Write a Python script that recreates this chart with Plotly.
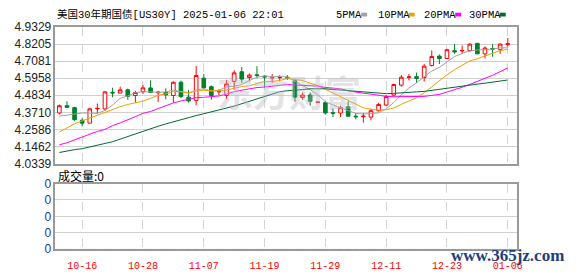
import plotly.graph_objects as go

dates = ["10-11", "10-14", "10-15", "10-16", "10-17", "10-18", "10-21", "10-22", "10-23", "10-24",
         "10-25", "10-28", "10-29", "10-30", "10-31", "11-01", "11-04", "11-05", "11-06", "11-07",
         "11-08", "11-11", "11-12", "11-13", "11-14", "11-15", "11-18", "11-19", "11-20", "11-21",
         "11-22", "11-25", "11-26", "11-27", "11-28", "11-29", "12-02", "12-03", "12-04", "12-05",
         "12-06", "12-09", "12-10", "12-11", "12-12", "12-13", "12-16", "12-17", "12-18", "12-19",
         "12-20", "12-23", "12-24", "12-26", "12-27", "12-30", "12-31", "01-02", "01-03", "01-06"]

opens = [4.367, 4.415, 4.402, 4.319, 4.300, 4.394, 4.394, 4.503, 4.498, 4.519,
         4.482, 4.507, 4.532, 4.500, 4.502, 4.482, 4.569, 4.471, 4.450, 4.596,
         4.540, 4.506, 4.482, 4.575, 4.638, 4.600, 4.618, 4.608, 4.598, 4.599,
         4.602, 4.579, 4.469, 4.485, 4.437, 4.435, 4.369, 4.367, 4.408, 4.346,
         4.342, 4.340, 4.382, 4.419, 4.485, 4.550, 4.600, 4.606, 4.600, 4.679,
         4.741, 4.725, 4.777, 4.775, 4.777, 4.825, 4.756, 4.791, 4.783, 4.817]
highs = [4.423, 4.444, 4.408, 4.332, 4.402, 4.429, 4.508, 4.533, 4.540, 4.527,
         4.513, 4.552, 4.582, 4.513, 4.529, 4.575, 4.579, 4.519, 4.675, 4.623,
         4.548, 4.523, 4.585, 4.648, 4.669, 4.627, 4.675, 4.616, 4.623, 4.616,
         4.616, 4.590, 4.502, 4.502, 4.440, 4.444, 4.398, 4.415, 4.444, 4.367,
         4.367, 4.394, 4.434, 4.485, 4.560, 4.616, 4.623, 4.633, 4.689, 4.779,
         4.752, 4.789, 4.820, 4.810, 4.825, 4.826, 4.804, 4.820, 4.825, 4.860]
lows = [4.357, 4.403, 4.315, 4.279, 4.300, 4.367, 4.382, 4.471, 4.497, 4.454,
        4.435, 4.492, 4.498, 4.440, 4.457, 4.434, 4.466, 4.435, 4.419, 4.523,
        4.454, 4.485, 4.460, 4.519, 4.565, 4.575, 4.596, 4.533, 4.565, 4.575,
        4.585, 4.440, 4.454, 4.415, 4.436, 4.357, 4.340, 4.340, 4.342, 4.325,
        4.304, 4.319, 4.377, 4.415, 4.477, 4.540, 4.581, 4.565, 4.573, 4.673,
        4.689, 4.721, 4.756, 4.756, 4.773, 4.755, 4.725, 4.737, 4.756, 4.804]
closes = [4.415, 4.404, 4.323, 4.300, 4.394, 4.397, 4.506, 4.499, 4.519, 4.477,
          4.502, 4.532, 4.502, 4.503, 4.486, 4.569, 4.475, 4.446, 4.613, 4.533,
          4.482, 4.509, 4.558, 4.631, 4.590, 4.616, 4.614, 4.604, 4.601, 4.601,
          4.598, 4.471, 4.485, 4.444, 4.439, 4.367, 4.365, 4.402, 4.346, 4.342,
          4.346, 4.382, 4.423, 4.475, 4.554, 4.602, 4.604, 4.594, 4.675, 4.738,
          4.725, 4.783, 4.769, 4.778, 4.820, 4.756, 4.794, 4.787, 4.820, 4.822]

ma5 = [4.346, 4.352, 4.362, 4.367, 4.367, 4.364, 4.384, 4.419, 4.463, 4.479,
       4.501, 4.506, 4.506, 4.503, 4.505, 4.518, 4.507, 4.496, 4.518, 4.527,
       4.510, 4.517, 4.539, 4.543, 4.554, 4.581, 4.602, 4.611, 4.605, 4.607,
       4.604, 4.575, 4.551, 4.520, 4.487, 4.441, 4.420, 4.403, 4.384, 4.364,
       4.360, 4.364, 4.368, 4.394, 4.436, 4.487, 4.532, 4.566, 4.606, 4.643,
       4.667, 4.703, 4.738, 4.759, 4.775, 4.781, 4.783, 4.787, 4.795, 4.796]
ma10 = [4.242, 4.268, 4.296, 4.315, 4.334, 4.352, 4.371, 4.393, 4.408, 4.423,
        4.432, 4.445, 4.463, 4.483, 4.492, 4.509, 4.507, 4.501, 4.511, 4.516,
        4.514, 4.512, 4.518, 4.531, 4.541, 4.546, 4.560, 4.575, 4.574, 4.581,
        4.593, 4.589, 4.581, 4.563, 4.547, 4.523, 4.498, 4.477, 4.452, 4.426,
        4.401, 4.392, 4.386, 4.389, 4.400, 4.424, 4.448, 4.467, 4.500, 4.540,
        4.577, 4.618, 4.652, 4.683, 4.709, 4.724, 4.743, 4.763, 4.777, 4.786]
ma20 = [4.158, 4.171, 4.190, 4.209, 4.224, 4.246, 4.259, 4.284, 4.302, 4.321,
        4.343, 4.365, 4.377, 4.396, 4.415, 4.433, 4.446, 4.455, 4.468, 4.470,
        4.473, 4.479, 4.491, 4.507, 4.517, 4.528, 4.534, 4.538, 4.543, 4.549,
        4.554, 4.551, 4.550, 4.547, 4.544, 4.535, 4.529, 4.526, 4.513, 4.504,
        4.497, 4.491, 4.484, 4.476, 4.474, 4.474, 4.473, 4.472, 4.476, 4.483,
        4.489, 4.505, 4.519, 4.536, 4.555, 4.574, 4.596, 4.615, 4.639, 4.663]
ma30 = [4.107, 4.118, 4.126, 4.132, 4.143, 4.155, 4.163, 4.178, 4.195, 4.212,
        4.232, 4.250, 4.265, 4.280, 4.295, 4.310, 4.325, 4.338, 4.350, 4.362,
        4.374, 4.386, 4.399, 4.412, 4.428, 4.444, 4.462, 4.478, 4.493, 4.507,
        4.513, 4.515, 4.521, 4.526, 4.527, 4.526, 4.522, 4.518, 4.512, 4.508,
        4.503, 4.498, 4.495, 4.494, 4.496, 4.498, 4.502, 4.506, 4.509, 4.516,
        4.524, 4.533, 4.540, 4.545, 4.552, 4.557, 4.563, 4.569, 4.576, 4.584]
volumes = [0] * 60

price_ticks = [4.0339, 4.1462, 4.2586, 4.3710, 4.4834, 4.5958, 4.7081, 4.8205, 4.9329]
price_labels = ["4.0339", "4.1462", "4.2586", "4.3710", "4.4834", "4.5958", "4.7081", "4.8205", "4.9329"]
vol_ticks = [0, 1, 2, 3, 4]
vol_labels = ["0", "0", "0", "0", "0"]
xtick_idx = [3, 11, 19, 27, 35, 43, 51, 59]

ma_names = ["5PMA", "10PMA", "20PMA", "30PMA"]
ma_colors = ["#a0a0a0", "#f0a000", "#ff00ff", "#006b30"]
ma_series = [ma5, ma10, ma20, ma30]

W, H = 578, 276
L, R = 56, 522
xdom = [L / W, R / W]
pdom = [1 - 165 / H, 1 - 21 / H]
vdom = [1 - 255 / H, 1 - 186 / H]

idx = list(range(len(dates)))

fig = go.Figure()

for name, col, s in zip(ma_names, ma_colors, ma_series):
    fig.add_trace(go.Scatter(x=idx, y=s, mode="lines", name=name,
                             line=dict(color=col, width=1), xaxis="x", yaxis="y",
                             hoverinfo="skip"))

fig.add_trace(go.Candlestick(
    x=idx, open=opens, high=highs, low=lows, close=closes,
    increasing=dict(line=dict(color="#ff0000", width=1), fillcolor="#ffffff"),
    decreasing=dict(line=dict(color="#00802b", width=1), fillcolor="#00802b"),
    whiskerwidth=0, xaxis="x", yaxis="y", name="K"))

fig.add_trace(go.Bar(x=idx, y=volumes, xaxis="x2", yaxis="y2", marker_color="#ff0000",
                     name="vol"))

axis_common = dict(domain=xdom, range=[-0.52, 60.16], tickmode="array",
                   tickvals=xtick_idx, ticktext=[dates[i] for i in xtick_idx],
                   showgrid=True, gridcolor="#d4d4d4", griddash="dash", gridwidth=1,
                   showline=True, mirror=True, linecolor="#9a9a9a", linewidth=1.5,
                   zeroline=False, ticks="", fixedrange=True)

fig.update_layout(
    width=W, height=H, margin=dict(l=0, r=0, t=0, b=0),
    paper_bgcolor="white", plot_bgcolor="white", showlegend=False,
    boxgap=0.32,
    xaxis=dict(axis_common, anchor="y", showticklabels=False, rangeslider=dict(visible=False)),
    xaxis2=dict(axis_common, anchor="y2", showticklabels=True, ticklabelstandoff=6,
                tickfont=dict(family="Liberation Mono", size=10, color="#ff0000")),
    yaxis=dict(domain=pdom, range=[price_ticks[0], price_ticks[-1]], tickmode="array",
               tickvals=price_ticks, ticktext=price_labels,
               showgrid=True, gridcolor="#d0d0d0", gridwidth=1,
               showline=True, mirror=True, linecolor="#9a9a9a", linewidth=1.5,
               zeroline=False, ticks="", fixedrange=True,
               tickfont=dict(family="Liberation Sans", size=12, color="#222222")),
    yaxis2=dict(domain=vdom, range=[0, 4], tickmode="array",
                tickvals=vol_ticks, ticktext=vol_labels,
                showgrid=True, gridcolor="#d0d0d0", gridwidth=1,
                showline=True, mirror=True, linecolor="#9a9a9a", linewidth=1.5,
                zeroline=False, ticks="", fixedrange=True,
                tickfont=dict(family="Liberation Sans", size=12, color="#1a3a8a")),
)

ann = []
# title
ann.append(dict(x=L / W, y=1 - 8 / H, xref="paper", yref="paper", xanchor="left", yanchor="middle",
                text="美国30年期国债[US30Y] 2025-01-06 22:01", showarrow=False,
                font=dict(family="Liberation Mono, Noto Sans CJK SC", size=10.5, color="#000000")))
# legend
leg_x = [338, 380, 426, 472]
sq_x = [365, 413, 460, 505]
shapes = []
for name, col, lx, sx in zip(ma_names, ma_colors, leg_x, sq_x):
    ann.append(dict(x=lx / W, y=1 - 8 / H, xref="paper", yref="paper", xanchor="left",
                    yanchor="middle", text=name, showarrow=False,
                    font=dict(family="Liberation Mono", size=10.5, color="#000000")))
    shapes.append(dict(type="rect", xref="paper", yref="paper", x0=sx / W, x1=(sx + 6) / W,
                       y0=1 - 10 / H, y1=1 - 6 / H, fillcolor=col, line=dict(width=0)))
# volume title
ann.append(dict(x=57 / W, y=1 - 178 / H, xref="paper", yref="paper", xanchor="left", yanchor="middle",
                text="成交量:0", showarrow=False,
                font=dict(family="Noto Sans CJK SC", size=12, color="#000000")))
# watermarks
ann.append(dict(x=292 / W, y=1 - 88 / H, xref="paper", yref="paper", xanchor="center", yanchor="middle",
                text="<b>东方财富</b>", showarrow=False, opacity=0.4,
                font=dict(family="Noto Sans CJK SC", size=36, color="#b8b8c4")))
ann.append(dict(x=513 / W, y=1 - 262 / H, xref="paper", yref="paper", xanchor="center", yanchor="middle",
                text="<b>www.365jz.com</b>", showarrow=False,
                font=dict(family="Liberation Serif", size=17, color="#1f3f7a")))

fig.update_layout(annotations=ann, shapes=shapes)

fig.write_html("out.html")
